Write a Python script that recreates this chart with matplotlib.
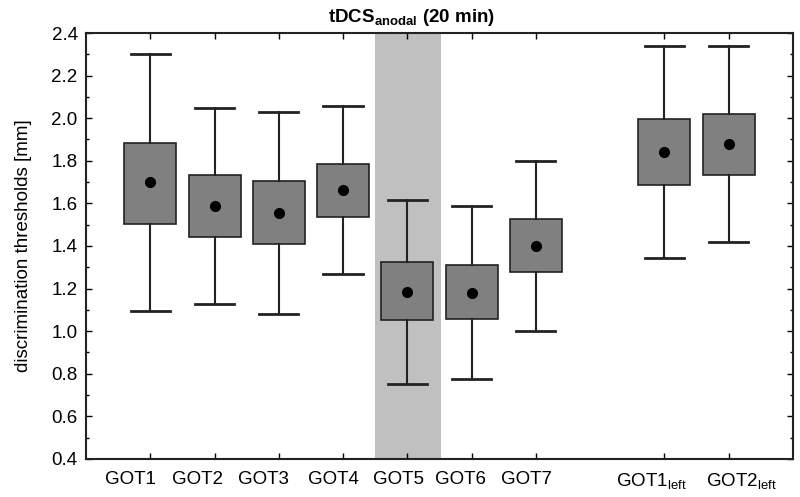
import numpy as np
import matplotlib.pyplot as plt
import matplotlib.transforms as mtransforms
from matplotlib.ticker import MultipleLocator, FormatStrFormatter

plt.rcParams['font.family'] = ['Liberation Sans', 'DejaVu Sans']
plt.rcParams['mathtext.fontset'] = 'custom'
plt.rcParams['mathtext.rm'] = 'Liberation Sans'
plt.rcParams['mathtext.bf'] = 'Liberation Sans:bold'

# data
labels = ['GOT1', 'GOT2', 'GOT3', 'GOT4', 'GOT5', 'GOT6', 'GOT7',
          r'GOT1$_{\mathrm{left}}$', r'GOT2$_{\mathrm{left}}$']
positions = [1, 2, 3, 4, 5, 6, 7, 9, 10]
means = [1.70, 1.59, 1.556, 1.663, 1.185, 1.181, 1.40, 1.843, 1.878]
box_lo = [1.505, 1.44, 1.407, 1.538, 1.052, 1.057, 1.276, 1.686, 1.733]
box_hi = [1.885, 1.734, 1.705, 1.787, 1.323, 1.31, 1.529, 1.997, 2.021]
whis_lo = [1.094, 1.128, 1.083, 1.269, 0.752, 0.775, 1.001, 1.344, 1.42]
whis_hi = [2.30, 2.047, 2.031, 2.056, 1.618, 1.588, 1.80, 2.338, 2.337]
shade_lo, shade_hi = 4.5, 5.52  # GOT5 highlight

# label nudges in pixels (labels in the original are not centred on ticks)
label_dx = [-20, -17, -15, -10, -9, -11, -9, -13, 13]

stats = []
for i in range(len(labels)):
    stats.append(dict(med=means[i], mean=means[i], q1=box_lo[i], q3=box_hi[i],
                      whislo=whis_lo[i], whishi=whis_hi[i], fliers=[]))

fig = plt.figure(figsize=(8, 4.97), dpi=100)
ax = fig.add_axes([0.1075, 0.0765, 0.8837, 0.8571])

ax.axvspan(shade_lo, shade_hi, color='#c0c0c0', lw=0, zorder=0)

ax.bxp(stats, positions=positions, widths=0.81, showmeans=True, patch_artist=True,
       boxprops=dict(facecolor='#808080', edgecolor='#222222', linewidth=1.2),
       whiskerprops=dict(color='#222222', linewidth=1.5),
       capprops=dict(color='#222222', linewidth=2),
       capwidths=0.61,
       medianprops=dict(visible=False),
       meanprops=dict(marker='o', markerfacecolor='black', markeredgecolor='black',
                      markersize=7))

ax.set_xlim(0, 11)
ax.set_ylim(0.4, 2.4)
ax.set_xticks(positions)
ax.set_xticklabels(labels, fontsize=13.5)
ax.yaxis.set_major_locator(MultipleLocator(0.2))
ax.yaxis.set_minor_locator(MultipleLocator(0.1))
ax.yaxis.set_major_formatter(FormatStrFormatter('%.1f'))
ax.tick_params(axis='both', which='major', direction='in', length=4, width=1,
               top=True, right=True, pad=6, labelsize=13.5)
ax.tick_params(axis='x', which='major', pad=9)
ax.tick_params(axis='y', which='minor', direction='in', length=2.5, width=1,
               right=True)
for s in ax.spines.values():
    s.set_linewidth(1.5)
    s.set_color('#222222')

for lab, dx in zip(ax.get_xticklabels(), label_dx):
    off = mtransforms.ScaledTranslation(dx / 100.0, 0, fig.dpi_scale_trans)
    lab.set_transform(lab.get_transform() + off)

ax.set_ylabel('discrimination thresholds [mm]', fontsize=13.5, labelpad=14)
ax.text(0.461, 1.012, r'tDCS$_{\mathbf{anodal}}$ (20 min)', transform=ax.transAxes,
        ha='center', va='bottom', fontsize=13.5, fontweight='bold')

plt.savefig('out.png', dpi=100)
